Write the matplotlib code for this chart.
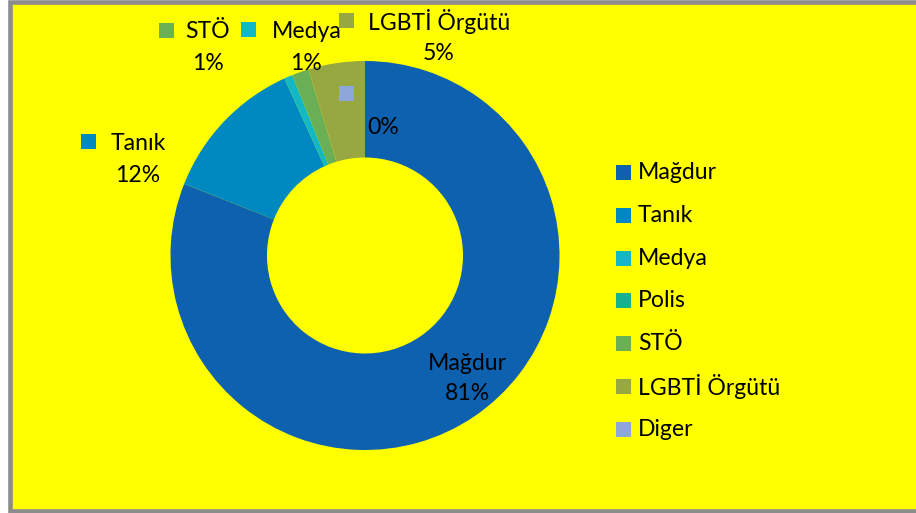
import matplotlib
matplotlib.use("Agg")
import matplotlib.pyplot as plt
from matplotlib.patches import Rectangle

plt.rcParams['font.family'] = ['Lato', 'DejaVu Sans']

categories = ["Mağdur", "Tanık", "Medya", "Polis", "STÖ", "LGBTİ Örgütü", "Diger"]
values = [81.0, 12.2, 0.7, 0.0, 1.4, 4.7, 0.0]
colors = ["#0E61AE", "#0088C1", "#12B8C4", "#13B48C", "#6AAF55", "#97A843", "#8EA7DB"]

W, H = 916, 513
fig = plt.figure(figsize=(W / 100, H / 100), dpi=100, facecolor="white")
ax = fig.add_axes([0, 0, 1, 1])
ax.set_xlim(0, W)
ax.set_ylim(0, H)
ax.set_aspect("equal")
ax.axis("off")

def Y(y):
    return H - y

# frame
ax.add_patch(Rectangle((9.5, Y(511)), 930, 509.5, facecolor="#FFFF00",
                       edgecolor="#8C8C8C", linewidth=3.3, zorder=0))

cx, cy, R = 365, 255.5, 194.5
ax.pie(values, colors=colors, startangle=90, counterclock=False,
       center=(cx, Y(cy)), radius=R, frame=True,
       wedgeprops=dict(width=R - 98, linewidth=0))
ax.set_xlim(0, W)
ax.set_ylim(0, H)
ax.axis("off")

fs = 16.6
sq = 15

def pct(v):
    return f"{round(v)}%"

def marker(x, y, c):
    ax.add_patch(Rectangle((x - sq / 2, Y(y) - sq / 2), sq, sq, facecolor=c,
                           edgecolor="none", zorder=5))

# data labels: (marker center, name center, pct center)
lab = {
    "Mağdur": (None, (467, 363), (467, 393)),
    "Tanık": ((88.5, 141.5), (138, 143), (138, 175)),
    "Medya": ((248.5, 29.5), (306.5, 31), (306, 64)),
    "STÖ": ((166, 30.5), (208, 31), (208, 64)),
    "LGBTİ Örgütü": ((346.5, 20.5), (439, 21), (439, 53)),
    "Diger": ((346.5, 93.5), None, (383, 128)),
}
for cat, val, col in zip(categories, values, colors):
    if cat not in lab:
        continue
    m, n, p = lab[cat]
    if m is not None:
        marker(m[0], m[1], col)
    if n is not None:
        ax.text(n[0], Y(n[1]), cat, fontsize=fs, ha="center", va="center", zorder=6)
    ax.text(p[0], Y(p[1]), pct(val), fontsize=fs, ha="center", va="center", zorder=6)

# legend
lx, ly0, dy = 623.5, 172.5, 42.8
for i, (cat, col) in enumerate(zip(categories, colors)):
    y = ly0 + i * dy
    marker(lx, y, col)
    ax.text(638, Y(y), cat, fontsize=fs, ha="left", va="center", zorder=6)

fig.savefig("out.png", dpi=100, facecolor="white")
